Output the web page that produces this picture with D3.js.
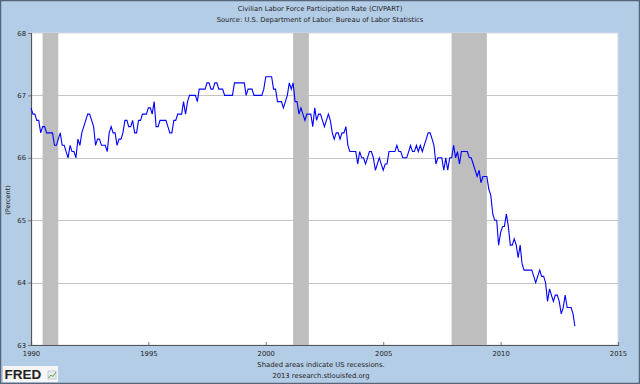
<!DOCTYPE html>
<html>
<head>
<meta charset="utf-8">
<script src="https://cdn.jsdelivr.net/npm/d3@7"></script>
<style>
body { margin: 0; padding: 0; background: #fff; }
svg { display: block; }
text { font-family: "DejaVu Sans", sans-serif; fill: #222; }
</style>
</head>
<body>
<script>
//Width and height
var W = 640, H = 384;
var margin = {top: 33, right: 22, bottom: 39, left: 31};
var width = W - margin.left - margin.right;
var height = H - margin.top - margin.bottom;

//monthly values, Jan 1990 onwards
var startYear = 1990;
var civpart = [
    66.8, 66.7, 66.7, 66.6, 66.6, 66.4, 66.5, 66.5, 66.4, 66.4, 66.4, 66.4,
    66.2, 66.2, 66.3, 66.4, 66.2, 66.2, 66.1, 66.0, 66.2, 66.1, 66.1, 66.0,
    66.3, 66.2, 66.4, 66.5, 66.6, 66.7, 66.7, 66.6, 66.5, 66.2, 66.3, 66.3,
    66.2, 66.2, 66.2, 66.1, 66.4, 66.5, 66.4, 66.4, 66.2, 66.3, 66.3, 66.4,
    66.6, 66.6, 66.5, 66.5, 66.6, 66.4, 66.4, 66.6, 66.6, 66.7, 66.7, 66.7,
    66.8, 66.8, 66.7, 66.9, 66.5, 66.5, 66.6, 66.6, 66.6, 66.6, 66.5, 66.4,
    66.4, 66.6, 66.6, 66.7, 66.7, 66.7, 66.9, 66.7, 66.9, 67.0, 67.0, 67.0,
    67.0, 66.9, 67.1, 67.1, 67.1, 67.1, 67.2, 67.2, 67.1, 67.1, 67.2, 67.2,
    67.1, 67.1, 67.1, 67.0, 67.0, 67.0, 67.0, 67.0, 67.2, 67.2, 67.2, 67.2,
    67.2, 67.2, 67.0, 67.1, 67.1, 67.1, 67.0, 67.0, 67.0, 67.0, 67.0, 67.1,
    67.3, 67.3, 67.3, 67.3, 67.1, 67.1, 66.9, 66.9, 66.9, 66.8, 66.9, 67.0,
    67.2, 67.1, 67.2, 66.9, 66.9, 66.7, 66.8, 66.7, 66.6, 66.7, 66.7, 66.7,
    66.5, 66.8, 66.6, 66.7, 66.7, 66.6, 66.5, 66.6, 66.7, 66.6, 66.4, 66.3,
    66.4, 66.4, 66.3, 66.4, 66.4, 66.5, 66.2, 66.1, 66.1, 66.1, 66.1, 65.9,
    66.1, 66.0, 66.0, 65.9, 66.0, 66.1, 66.1, 66.0, 65.8, 65.9, 66.0, 65.9,
    65.8, 65.9, 65.9, 66.1, 66.1, 66.1, 66.1, 66.2, 66.1, 66.1, 66.0, 66.0,
    66.0, 66.1, 66.2, 66.1, 66.1, 66.2, 66.1, 66.2, 66.1, 66.2, 66.3, 66.4,
    66.4, 66.3, 66.2, 65.9, 66.0, 66.0, 66.0, 65.8, 66.0, 65.8, 66.0, 66.0,
    66.2, 66.0, 66.1, 65.9, 66.1, 66.1, 66.1, 66.1, 66.0, 66.0, 65.9, 65.8,
    65.7, 65.8, 65.6, 65.7, 65.7, 65.7, 65.5, 65.4, 65.1, 65.0, 65.0, 64.6,
    64.8, 64.9, 64.9, 65.1, 64.9, 64.6, 64.6, 64.7, 64.6, 64.4, 64.6, 64.3,
    64.2, 64.2, 64.2, 64.2, 64.2, 64.1, 64.0, 64.1, 64.2, 64.1, 64.1, 64.0,
    63.7, 63.9, 63.8, 63.7, 63.8, 63.8, 63.7, 63.5, 63.6, 63.8, 63.6, 63.6,
    63.6, 63.5, 63.3
];

//recessions (start year, month index, end year, month index)
var recessions = [
    [1990, 6, 1991, 2],
    [2001, 2, 2001, 10],
    [2007, 11, 2009, 5]
];

var xTicks = [1990, 1995, 2000, 2005, 2010, 2015];
var yTicks = [63, 64, 65, 66, 67, 68];

var titleLines = ["Civilian Labor Force Participation Rate (CIVPART)",
                  "Source: U.S. Department of Labor: Bureau of Labor Statistics"];
var footLines = ["Shaded areas indicate US recessions.",
                 "2013 research.stlouisfed.org"];

var dataset = civpart.map(function(v, i){
    return {date: new Date(startYear + Math.floor(i / 12), i % 12, 1), value: v};
});

var svg = d3.select("body")
    .append("svg")
    .attr("width", W)
    .attr("height", H);

//background and frame
svg.append("rect")
    .attr("x", 0.5).attr("y", 0.5)
    .attr("width", W - 1).attr("height", H - 1)
    .attr("fill", "#b4cde6")
    .attr("stroke", "#56657a")
    .attr("stroke-width", 1.5);

var xScale = d3.scaleTime()
    .domain([new Date(1990, 0, 1), new Date(2015, 0, 1)])
    .range([0, width]);

var yScale = d3.scaleLinear()
    .domain([63, 68])
    .range([height, 0]);

var g = svg.append("g")
    .attr("transform", "translate(" + margin.left + "," + margin.top + ")");

g.append("rect")
    .attr("width", width)
    .attr("height", height)
    .attr("fill", "#fff")
    .attr("stroke", "#d4dce6")
    .attr("stroke-width", 1);

//grid
g.selectAll("line.grid")
    .data(yTicks.slice(1, -1))
    .enter()
    .append("line")
    .attr("class", "grid")
    .attr("x1", 0).attr("x2", width)
    .attr("y1", function(d){ return Math.round(yScale(d)) + 0.5; })
    .attr("y2", function(d){ return Math.round(yScale(d)) + 0.5; })
    .attr("stroke", "#c4c4c4")
    .attr("stroke-width", 1);

//recession bars (on top of grid)
g.selectAll("rect.rec")
    .data(recessions)
    .enter()
    .append("rect")
    .attr("class", "rec")
    .attr("x", function(d){ return xScale(new Date(d[0], d[1], 1)); })
    .attr("width", function(d){ return xScale(new Date(d[2], d[3], 1)) - xScale(new Date(d[0], d[1], 1)); })
    .attr("y", 0)
    .attr("height", height)
    .attr("fill", "#bebebe");

//axes
var xAxis = d3.axisBottom(xScale)
    .tickValues(xTicks.map(function(y){ return new Date(y, 0, 1); }))
    .tickFormat(d3.timeFormat("%Y"))
    .tickSize(-3)
    .tickPadding(6);
var xg = g.append("g")
    .attr("transform", "translate(0," + height + ")")
    .call(xAxis);

var yAxis = d3.axisLeft(yScale)
    .tickValues(yTicks)
    .tickFormat(d3.format("d"))
    .tickSize(3)
    .tickPadding(2);
var yg = g.append("g").call(yAxis);

[xg, yg].forEach(function(a){
    a.select(".domain").attr("stroke", "#555").attr("stroke-width", 1.2);
    a.selectAll(".tick line").attr("stroke", "#777");
    a.selectAll("text")
        .style("font-family", "DejaVu Sans, sans-serif")
        .style("font-size", "6.8px")
        .attr("fill", "#222");
});

//series
var line = d3.line()
    .x(function(d){ return xScale(d.date); })
    .y(function(d){ return yScale(d.value); });

g.append("path")
    .datum(dataset)
    .attr("d", line)
    .attr("fill", "none")
    .attr("stroke", "#0000ff")
    .attr("stroke-width", 1.1);

//titles
svg.selectAll("text.title")
    .data(titleLines)
    .enter()
    .append("text")
    .attr("class", "title")
    .attr("x", 320)
    .attr("y", function(d, i){ return 10.5 + i * 11; })
    .attr("text-anchor", "middle")
    .style("font-size", "6.8px")
    .text(function(d){ return d; });

svg.append("text")
    .attr("transform", "translate(10,200) rotate(-90)")
    .attr("text-anchor", "middle")
    .style("font-size", "6.5px")
    .text("(Percent)");

svg.selectAll("text.foot")
    .data(footLines)
    .enter()
    .append("text")
    .attr("class", "foot")
    .attr("x", 321)
    .attr("y", function(d, i){ return 367 + i * 11; })
    .attr("text-anchor", "middle")
    .style("font-size", "6.8px")
    .text(function(d){ return d; });

//logo
var logo = svg.append("g").attr("transform", "translate(3,366)");
logo.append("rect")
    .attr("width", 55).attr("height", 16)
    .attr("fill", "#f6f6f6");
logo.append("text")
    .attr("x", 1.5).attr("y", 13)
    .style("font-family", "Liberation Sans, Arial, sans-serif")
    .style("font-weight", "bold")
    .style("font-size", "13.5px")
    .attr("fill", "#000")
    .text("FRED");
logo.append("rect")
    .attr("x", 45).attr("y", 5).attr("width", 8).attr("height", 8)
    .attr("fill", "#e8eef0")
    .attr("stroke", "#9ab")
    .attr("stroke-width", 0.5);
logo.append("path")
    .attr("d", "M45.5,12 L48,9 L50,10.5 L53,6")
    .attr("fill", "none")
    .attr("stroke", "#6a9a4a")
    .attr("stroke-width", 1);
</script>
</body>
</html>
